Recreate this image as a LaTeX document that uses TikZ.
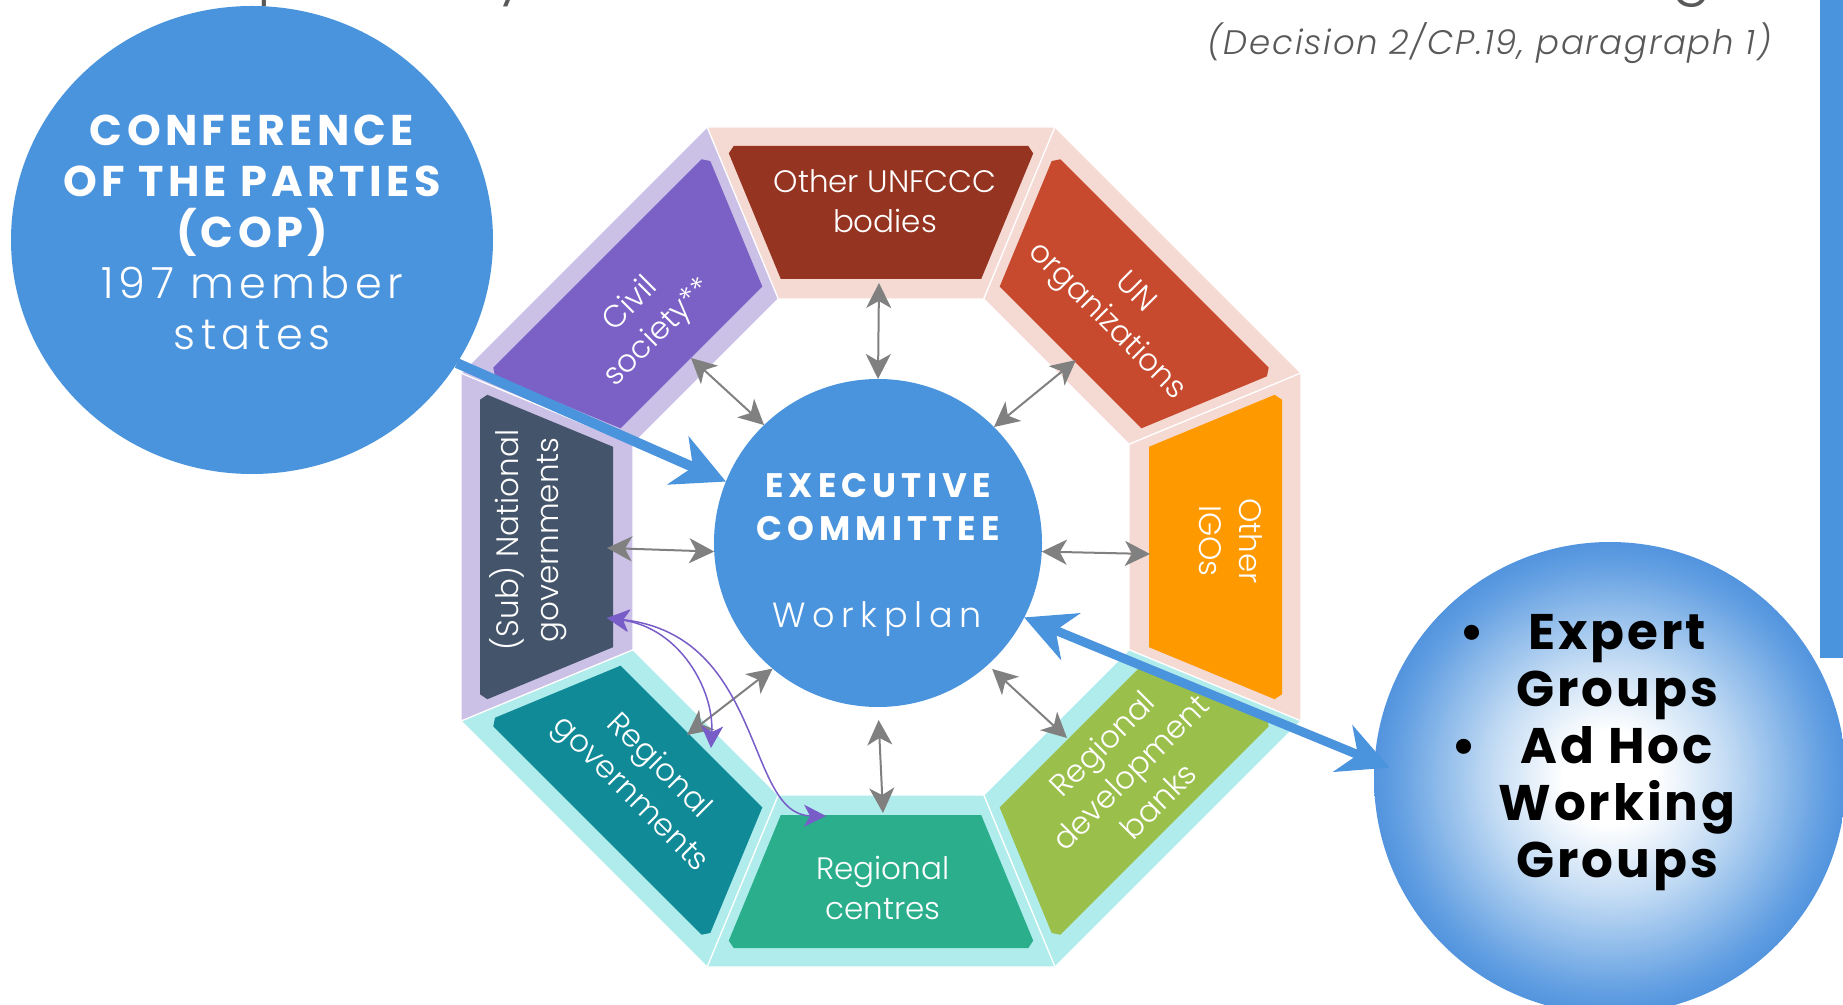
\documentclass[tikz,border=0pt]{standalone}
\usepackage{fontspec}
\setmainfont{Poppins}
\newfontfamily\seglight{Poppins Light}
\newfontfamily\copbold{Poppins}[LetterSpace=10]
\newfontfamily\coplight{Poppins Light}[LetterSpace=12]
\newfontfamily\execbold{Poppins}[LetterSpace=15]
\newfontfamily\execlight{Poppins Light}[LetterSpace=19]
\newfontfamily\expbold{Poppins}[LetterSpace=6]
\newfontfamily\italight{Poppins Light Italic}[LetterSpace=5]
\usetikzlibrary{arrows.meta,shapes.geometric}

\definecolor{copblue}{RGB}{74,147,221}
\definecolor{lav}{RGB}{203,192,230}
\definecolor{pinkband}{RGB}{245,218,212}
\definecolor{cyanband}{RGB}{176,236,236}
\definecolor{cUNF}{RGB}{150,52,34}
\definecolor{cUN}{RGB}{200,74,46}
\definecolor{cIGO}{RGB}{255,153,0}
\definecolor{cRDB}{RGB}{154,191,74}
\definecolor{cRC}{RGB}{42,174,140}
\definecolor{cRG}{RGB}{17,138,152}
\definecolor{cSN}{RGB}{68,84,106}
\definecolor{cCS}{RGB}{123,97,197}
\definecolor{arrgray}{RGB}{128,128,128}
\definecolor{purp}{RGB}{120,92,200}
\definecolor{txtgray}{RGB}{89,89,89}
\definecolor{expA}{RGB}{196,220,244}
\definecolor{expB}{RGB}{136,183,233}
\definecolor{expC}{RGB}{100,160,226}
\definecolor{expD}{RGB}{82,148,222}

\pgfdeclareradialshading{expshade}{\pgfpoint{0bp}{0bp}}{color(0bp)=(white); color(5bp)=(white); color(12.5bp)=(expA); color(18.75bp)=(expB); color(22.5bp)=(expC); color(25bp)=(expD); color(50bp)=(expD)}

% one octagon segment: rotation, band colour, inner colour
\newcommand\octseg[3]{%
  \begin{scope}[shift={(881,547)}, rotate=#1]
    \path[fill=#2, draw=white, line width=0.6pt]
      (-102.7,-248) -- (-174,-420) -- (174,-420) -- (102.7,-248) -- cycle;
    \path[fill=#3]
      (-100.2,-268) -- (-152.2,-393.6) -- (-147.3,-401) -- (147.3,-401)
      -- (152.2,-393.6) -- (100.2,-268) -- cycle;
  \end{scope}}

\begin{document}
\begin{tikzpicture}[x=0.5pt, y=-0.5pt,
  segtext/.style={text=white, align=center, inner sep=0pt,
    font=\seglight\fontsize{15.5}{20}\selectfont},
  grayarr/.style={draw=arrgray, line width=1pt,
    {Stealth[length=12.5pt, width=12.5pt, inset=3.5pt]}-{Stealth[length=12.5pt, width=12.5pt, inset=3.5pt]}},
  purparr/.style={draw=purp, line width=0.75pt,
    {Stealth[length=11pt, width=11pt, inset=3pt]}-{Stealth[length=11pt, width=11pt, inset=3pt]}},
  bluearr/.style={draw=copblue, line width=5pt,
    -{Stealth[length=26pt, width=26pt, inset=8pt]}},
  bluedbl/.style={draw=copblue, line width=4.5pt,
    {Stealth[length=25pt, width=25pt, inset=8pt]}-{Stealth[length=25pt, width=25pt, inset=8pt]}}
]
\useasboundingbox (0,0) rectangle (1843,1005);

% cut-off title fragments at the top edge
\begin{scope}
  \clip (0,0) rectangle (1843,1005);
  \node[anchor=base west, inner sep=0pt, text=txtgray, font=\seglight\fontsize{30}{36}\selectfont] (frag1) at (257,-8) {p};
  \node[anchor=base, inner sep=0pt, text=txtgray, font=\seglight\fontsize{30}{36}\selectfont] (frag2) at (512,-8) {y};
  \node[anchor=base, inner sep=0pt, text=txtgray, font=\seglight\fontsize{30}{36}\selectfont] (frag3) at (1692,-8) {g};
\end{scope}

% decision reference
\node[anchor=base east, inner sep=0pt, text=txtgray, font=\italight\fontsize{17}{20}\selectfont] (decision) at (1772,55) {(Decision 2/CP.19, paragraph 1)};

% octagon
\octseg{0}{pinkband}{cUNF}
\octseg{-45}{pinkband}{cUN}
\octseg{-90}{pinkband}{cIGO}
\octseg{-135}{cyanband}{cRDB}
\octseg{180}{cyanband}{cRC}
\octseg{135}{cyanband}{cRG}
\octseg{90}{lav}{cSN}
\octseg{45}{lav}{cCS}

\node[segtext] (unfccc) at (885,201) {Other UNFCCC\\bodies};
\node[segtext, rotate=-45] (unorg) at (1120,308) {UN\\organizations};
\node[segtext, rotate=-90] (igo) at (1231,541) {Other\\IGOs};
\node[segtext, rotate=45] (rdb) at (1130,772) {Regional\\development\\banks};
\node[segtext] (rc) at (883,888) {Regional\\centres};
\node[segtext, rotate=-45] (rg) at (644,781) {Regional\\governments};
\node[segtext, rotate=90] (sn) at (528,540) {(Sub) National\\governments};
\node[segtext, rotate=45] (cs) at (645,319) {Civil\\society**};

% COP circle
\node[ellipse, fill=copblue, minimum width=241pt, minimum height=234pt, inner sep=0pt, outer sep=0pt] (cop) at (252,240) {};
\node[text=white, align=center, inner sep=0pt, font=\fontsize{21.5}{25.5}\selectfont] (coptxt) at (252,232)
  {\copbold\bfseries CONFERENCE\\\copbold\bfseries OF THE PARTIES\\\copbold\bfseries (COP)\\\coplight 197 member\\\coplight states};

% Executive committee
\node[circle, fill=copblue, minimum size=164pt, inner sep=0pt, outer sep=0pt] (exec) at (878,543) {};
\node[text=white, align=center, inner sep=0pt, font=\execbold\bfseries\fontsize{17}{21.5}\selectfont] (exectxt) at (878,507) {EXECUTIVE\\COMMITTEE};
\node[text=white, anchor=base, inner sep=0pt, font=\execlight\fontsize{17.5}{20}\selectfont] (workplan) at (877,627) {Workplan};

% grey double arrows
\coordinate (g-top) at (879,283);
\coordinate (g-tl) at (691,358);
\coordinate (g-tr) at (1076,360);
\coordinate (g-l) at (607,548);
\coordinate (g-r) at (1150,554);
\coordinate (g-bl) at (687,735);
\coordinate (g-b) at (883,813);
\coordinate (g-br) at (1067,738);
\draw[grayarr] (exec.90) -- (g-top);
\draw[grayarr] (exec.134) -- (g-tl);
\draw[grayarr] (exec.45) -- (g-tr);
\draw[grayarr] (exec.183) -- (g-l);
\draw[grayarr] (exec.-3) -- (g-r);
\draw[grayarr] (exec.230) -- (g-bl);
\draw[grayarr, shorten <=6.5pt] (exec.-90) -- (g-b);
\draw[grayarr, shorten <=3pt] (exec.-48) -- (g-br);

% purple curved arrows
\coordinate (p-sn) at (607,618);
\coordinate (p-rg) at (711,748);
\coordinate (p-rc) at (826,816);
\draw[purparr] (p-sn) .. controls (680,628) and (714,690) .. (p-rg);
\draw[purparr] (p-sn) .. controls (765,635) and (745,815) .. (p-rc);

% COP -> executive committee
\draw[bluearr] (cop.-31.5) -- (exec.158.5);

% right bar
\fill[copblue] (1820,0) rectangle (1843,658);

% expert groups circle
\node[circle, shade, shading=expshade, minimum size=236pt, inner sep=0pt, outer sep=0pt] (expert) at (1610,778) {};
\node[align=center, inner sep=0pt, text=black, font=\fontsize{25}{28.5}\selectfont] (exptxt) at (1617,753)
  {\expbold\bfseries\makebox[0pt][r]{\textbullet\hspace{22pt}}Expert\\\expbold\bfseries Groups\\\expbold\bfseries\makebox[0pt][r]{\textbullet\hspace{22pt}}Ad Hoc\\\expbold\bfseries Working\\\expbold\bfseries Groups};

% executive committee <-> expert groups
\draw[bluedbl, shorten >=-8pt] (exec.-27) -- (expert.176);
\end{tikzpicture}
\end{document}
